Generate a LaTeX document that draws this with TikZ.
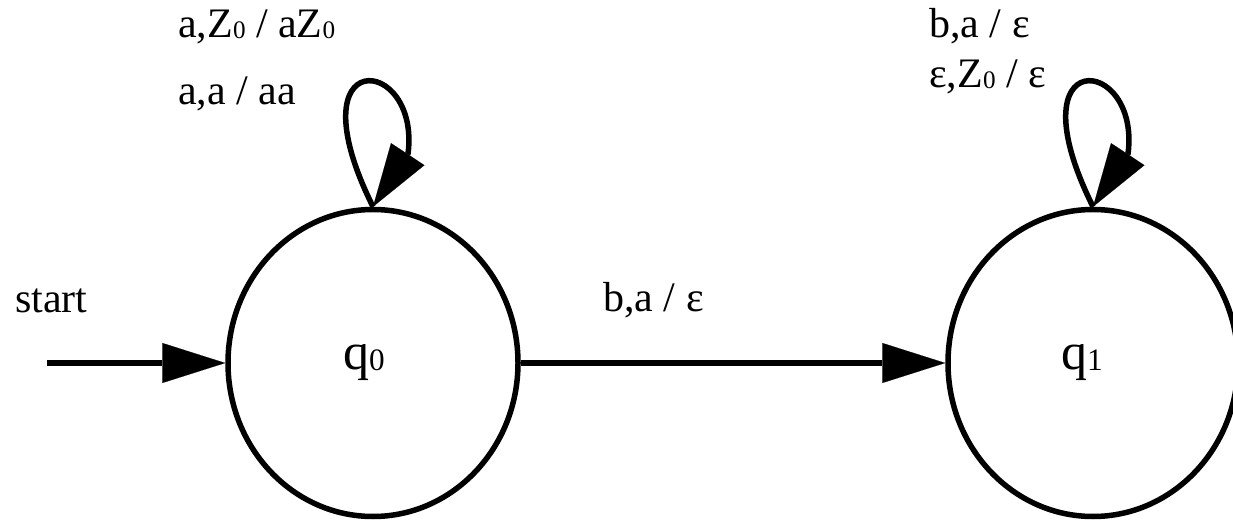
\documentclass[tikz,border=0pt]{standalone}
\usepackage{fontspec}
\setmainfont{Liberation Serif}
\usetikzlibrary{arrows.meta,shapes.geometric}
\newcommand\lowsub[1]{\raisebox{-1pt}{\scalebox{0.6}{#1}}}
\begin{document}
\begin{tikzpicture}[x=1pt,y=1pt,
  state/.style={draw,ellipse,line width=5.5pt,minimum width=290pt,minimum height=307pt,inner sep=0pt,font=\fontsize{52}{60}\selectfont},
  lbl/.style={anchor=base west,inner sep=0pt,font=\fontsize{42}{48}\selectfont},
  edgearrow/.style={line width=5.5pt,-{Triangle[length=63pt,width=40pt,line width=0.1pt]}}]
\useasboundingbox (0,0) rectangle (1233,519);
\node[state] (q0) at (373,156) {q\lowsub{0}\hspace*{18pt}};
\node[state] (q1) at (1093,156) {q\lowsub{1}\hspace*{22pt}};
\coordinate (s) at (47,156);
\draw[edgearrow] (s) -- (q0.west);
\draw[edgearrow] (q0.east) -- (q1.west);
\draw[edgearrow] (q0.north) .. controls ([shift={(-82,165)}]q0.north) and ([shift={(48,152)}]q0.north) .. ([shift={(35,53)}]q0.north) -- (q0.north);
\draw[edgearrow] (q1.north) .. controls ([shift={(-82,165)}]q1.north) and ([shift={(48,152)}]q1.north) .. ([shift={(35,53)}]q1.north) -- (q1.north);
\node[lbl] (startlbl) at (15,206) {start};
\node[lbl] (l1) at (178,481) {a,Z\lowsub{0} / aZ\lowsub{0}};
\node[lbl] (l2) at (178,414) {a,a / aa};
\node[lbl] (l3) at (929,481) {b,a / ε};
\node[lbl] (l4) at (929,431) {ε,Z\lowsub{0} / ε};
\node[lbl] (l5) at (603,207) {b,a / ε};
\end{tikzpicture}
\end{document}
